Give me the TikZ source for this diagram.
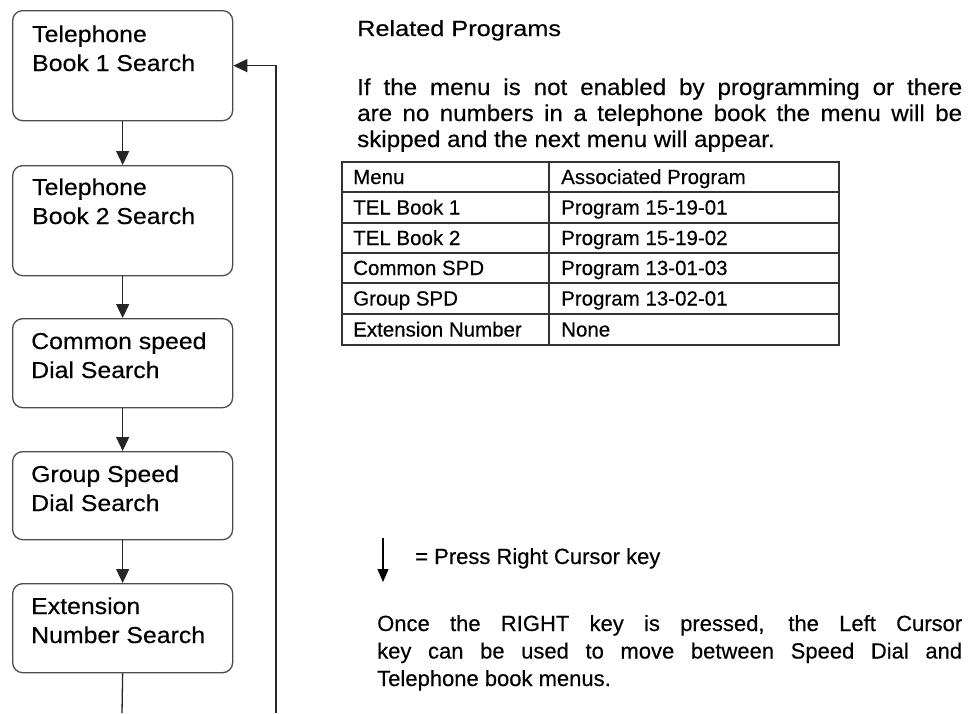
\documentclass[tikz,border=0pt]{standalone}
\usepackage{fontspec}
\setmainfont[FakeBold=0.35]{Liberation Sans}
\newfontfamily\widefont[FakeStretch=1.15,FakeBold=0.35]{Liberation Sans}
\newfontfamily\midfont[FakeStretch=1.08,FakeBold=0.35]{Liberation Sans}
\newfontfamily\parafont[FakeStretch=1.05,FakeBold=0.35]{Liberation Sans}
\usetikzlibrary{arrows.meta}
\tikzset{
  menubox/.style={draw=black!70, line width=1.3pt, rounded corners=10pt, minimum width=220pt, inner sep=0pt, anchor=north west},
  boxlabel/.style={anchor=base west, align=left, inner sep=0pt, font=\midfont\fontsize{23}{29}\selectfont},
  flow/.style={line width=1.3pt, draw=black!85, -{Triangle[length=14pt,width=13pt]}},
  plainline/.style={line width=1.3pt, draw=black!85},
  tableline/.style={line width=1.4pt, draw=black!80},
  celltext/.style={anchor=base west, inner sep=0pt, font=\fontsize{20.5}{24}\selectfont},
  bodytext/.style={anchor=base west, inner sep=0pt, align=justify}
}
\begin{document}
\begin{tikzpicture}[x=1pt,y=-1pt]
\useasboundingbox (0,0) rectangle (968,713);

% flow boxes
\node[menubox, minimum height=110pt] (b1) at (12,10) {};
\node[menubox, minimum height=110pt] (b2) at (12,165) {};
\node[menubox, minimum height=89pt] (b3) at (12,318) {};
\node[menubox, minimum height=88pt] (b4) at (12,451) {};
\node[menubox, minimum height=89pt] (b5) at (12,583) {};

% labels: anchor is the baseline of the last line
\node[boxlabel] (l1) at (32,71) {Telephone\\Book 1 Search};
\node[boxlabel] (l2) at (32,224) {Telephone\\Book 2 Search};
\node[boxlabel] (l3) at (31,378) {Common speed\\Dial Search};
\node[boxlabel] (l4) at (31,511) {Group Speed\\Dial Search};
\node[boxlabel] (l5) at (31,643) {Extension\\Number Search};

\draw[flow] (b1) -- (b2);
\draw[flow] (b2) -- (b3);
\draw[flow] (b3) -- (b4);
\draw[flow] (b4) -- (b5);
\coordinate (downend) at (122,713);
\draw[plainline] (b5.south) -- (downend);
\coordinate (loopstart) at (276,713);
\draw[flow] (loopstart) |- (b1.east);

% right side text
\node[anchor=base west, inner sep=0pt, font=\widefont\fontsize{22}{26}\selectfont] (head) at (357,36) {Related Programs};
\node[bodytext, text width=605pt, font=\parafont\fontsize{23}{26}\selectfont] (para1) at (357,95)
  {If the menu is not enabled by programming or there\linebreak are no numbers in a telephone book the menu will be\linebreak skipped and the next menu will appear.};

% table
\draw[tableline] (342,162) rectangle (839,345);
\foreach \yy in {192,223,253,283,314} { \draw[tableline] (342,\yy) -- (839,\yy); }
\draw[tableline] (549,162) -- (549,345);

\node[celltext] (t11) at (353,184) {Menu};
\node[celltext] (t12) at (561,184) {Associated Program};
\node[celltext] (t21) at (353,214.5) {TEL Book 1};
\node[celltext] (t22) at (561,214.5) {Program 15-19-01};
\node[celltext] (t31) at (353,245) {TEL Book 2};
\node[celltext] (t32) at (561,245) {Program 15-19-02};
\node[celltext] (t41) at (353,275) {Common SPD};
\node[celltext] (t42) at (561,275) {Program 13-01-03};
\node[celltext] (t51) at (353,305.5) {Group SPD};
\node[celltext] (t52) at (561,305.5) {Program 13-02-01};
\node[celltext] (t61) at (353,336.5) {Extension Number};
\node[celltext] (t62) at (561,336.5) {None};

% legend
\coordinate (legtop) at (383,538);
\coordinate (legbot) at (383,582);
\draw[line width=1.2pt, -{Triangle[length=13pt,width=11pt]}] (legtop) -- (legbot);
\node[anchor=base west, inner sep=0pt, font=\fontsize{22}{26}\selectfont] (legtext) at (415,564) {= Press Right Cursor key};

\node[bodytext, text width=585pt, font=\fontsize{22}{27.5}\selectfont] (para2) at (377,631)
  {Once the RIGHT key is pressed, the Left Cursor\linebreak key can be used to move between Speed Dial and\linebreak Telephone book menus.};
\end{tikzpicture}
\end{document}
